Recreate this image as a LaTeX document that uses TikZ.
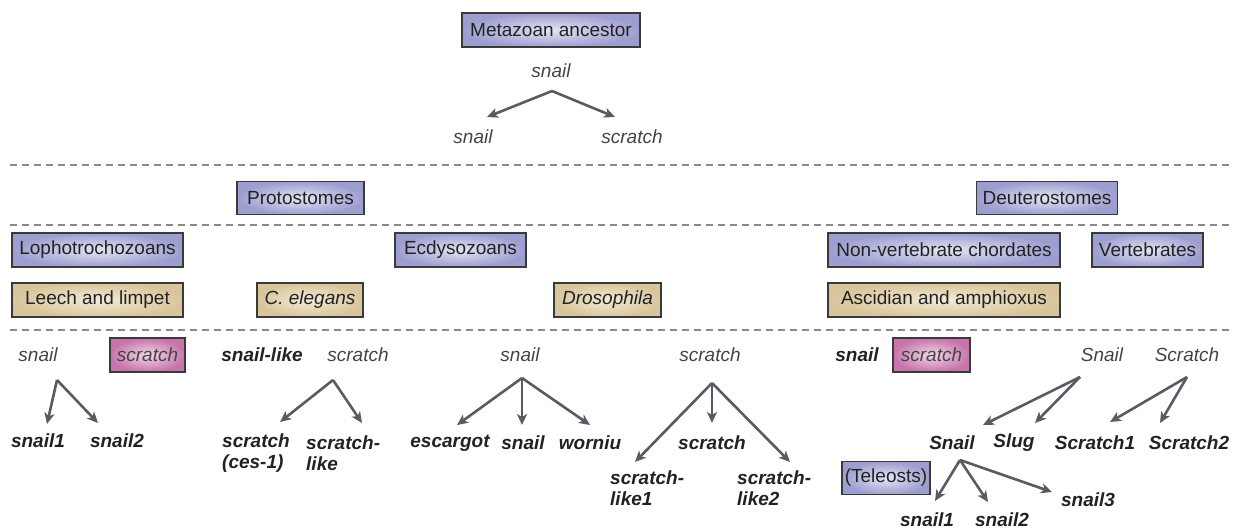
\documentclass[tikz,border=0pt]{standalone}
\usepackage{fontspec}
\setmainfont{Liberation Sans}
\usetikzlibrary{arrows.meta}
\definecolor{arrowc}{HTML}{575C64}
\definecolor{dashc}{HTML}{8A8A8A}
\definecolor{bordc}{HTML}{3A3A3A}
\definecolor{blueout}{HTML}{9D9ED0}
\definecolor{bluein}{HTML}{E4E4F4}
\definecolor{tanout}{HTML}{D8C59B}
\definecolor{tanin}{HTML}{F3EAD6}
\definecolor{pinkout}{HTML}{C674AA}
\definecolor{pinkin}{HTML}{F2D6E7}
\definecolor{txt}{HTML}{222222}
\definecolor{txtgray}{HTML}{444444}
\newcommand{\fsz}{\fontsize{19}{20.5}\selectfont}
\tikzset{
  box/.style={draw=bordc, line width=1.1pt, minimum height=34pt, inner sep=0pt, text=txt, font=\fsz},
  bluebox/.style={box, inner color=bluein, outer color=blueout},
  tanbox/.style={box, inner color=tanin, outer color=tanout},
  pinkbox/.style={box, inner color=pinkin, outer color=pinkout, text=txtgray, font=\fsz\itshape},
  gene/.style={font=\fsz\itshape, text=txtgray, inner sep=0pt},
  bgene/.style={font=\fsz\bfseries\itshape, text=txt, inner sep=0pt},
  two/.style={bgene, align=left, anchor=west},
  arr/.style={-{Stealth[length=11pt,width=10pt,inset=3pt]}, line width=2.6pt, draw=arrowc},
  dline/.style={draw=dashc, line width=1.4pt, dash pattern=on 7pt off 5pt}
}
\begin{document}
\begin{tikzpicture}[x=1pt,y=-1pt]
\useasboundingbox (0,0) rectangle (1237,531);
% separators
\coordinate (d1a) at (10,165); \coordinate (d1b) at (1232,165);
\coordinate (d2a) at (10,225); \coordinate (d2b) at (1232,225);
\coordinate (d3a) at (10,330); \coordinate (d3b) at (1232,330);
\draw[dline] (d1a) -- (d1b);
\draw[dline] (d2a) -- (d2b);
\draw[dline] (d3a) -- (d3b);
% boxes
\node[bluebox, minimum width=178pt] (meta) at (551,30) {Metazoan ancestor};
\node[bluebox, minimum width=127pt, minimum height=33pt] (proto) at (300.5,198) {Protostomes};
\node[bluebox, minimum width=141pt, minimum height=33pt] (deut) at (1047,198) {Deuterostomes};
\node[bluebox, minimum width=171pt] (lopho) at (97.5,250) {Lophotrochozoans};
\node[bluebox, minimum width=131pt] (ecdy) at (460.5,250) {Ecdysozoans};
\node[bluebox, minimum width=232pt] (nonvert) at (944,250) {Non-vertebrate chordates};
\node[bluebox, minimum width=111pt] (vert) at (1147.5,250) {Vertebrates};
\node[tanbox, minimum width=171pt] (leech) at (97.5,300) {Leech and limpet};
\node[tanbox, minimum width=106pt] (celeg) at (310,300) {\itshape C. elegans};
\node[tanbox, minimum width=107pt] (droso) at (607.5,300) {\itshape Drosophila};
\node[tanbox, minimum width=232pt] (ascid) at (944,300) {Ascidian and amphioxus};
% top tree
\node[gene] (snail0) at (551,71) {snail};
\node[gene] (snailA) at (473,137) {snail};
\node[gene] (scratchA) at (632,137) {scratch};
\coordinate (t0) at (552,91);
\coordinate (t0a) at (487,117); \coordinate (t0b) at (615,117);
\draw[arr] (t0) -- (t0a);
\draw[arr] (t0) -- (t0b);
% leech and limpet
\node[gene] (lsnail) at (38,355) {snail};
\node[pinkbox, minimum width=75pt] (lscratch) at (147.5,355) {scratch};
\node[bgene] (lsnail1) at (38,441) {snail1};
\node[bgene] (lsnail2) at (117,441) {snail2};
\coordinate (t1) at (57,380);
\coordinate (t1a) at (47,424); \coordinate (t1b) at (98,423);
\draw[arr] (t1) -- (t1a);
\draw[arr] (t1) -- (t1b);
% C. elegans
\node[bgene] (csnail) at (262,355) {snail-like};
\node[gene] (cscratch) at (358,355) {scratch};
\node[two] (cces) at (222,453) {scratch\\(ces-1)};
\node[two] (clike) at (306,453) {scratch-\\like};
\coordinate (t2) at (333,380);
\coordinate (t2a) at (280,422); \coordinate (t2b) at (362,423);
\draw[arr] (t2) -- (t2a);
\draw[arr] (t2) -- (t2b);
% Drosophila snail
\node[gene] (dsnail) at (520,355) {snail};
\node[bgene] (desc) at (450,443) {escargot};
\node[bgene] (dsn) at (523,443) {snail};
\node[bgene] (dwor) at (590,443) {worniu};
\coordinate (t3) at (522,378);
\coordinate (t3a) at (457,425); \coordinate (t3b) at (522,425); \coordinate (t3c) at (590,425);
\draw[arr] (t3) -- (t3a);
\draw[arr] (t3) -- (t3b);
\draw[arr] (t3) -- (t3c);
% Drosophila scratch
\node[gene] (dscratch) at (710,355) {scratch};
\node[bgene] (dscr) at (712,443) {scratch};
\node[two] (dl1) at (610,488) {scratch-\\like1};
\node[two] (dl2) at (737,488) {scratch-\\like2};
\coordinate (t4) at (712,383);
\coordinate (t4a) at (635,462); \coordinate (t4b) at (712,423); \coordinate (t4c) at (790,462);
\draw[arr] (t4) -- (t4a);
\draw[arr] (t4) -- (t4b);
\draw[arr] (t4) -- (t4c);
% Deuterostomes
\node[bgene] (asnail) at (857,355) {snail};
\node[pinkbox, minimum width=77pt] (ascratch) at (931.5,355) {scratch};
\node[gene] (vSnail) at (1102,355) {Snail};
\node[gene] (vScratch) at (1187,355) {Scratch};
\node[bgene] (vSn) at (952,443) {Snail};
\node[bgene] (vSlug) at (1014,443) {Slug};
\node[bgene] (vScr1) at (1095,443) {Scratch1};
\node[bgene] (vScr2) at (1189,443) {Scratch2};
\coordinate (t5) at (1080,377);
\coordinate (t5a) at (983,425); \coordinate (t5b) at (1035,423);
\draw[arr] (t5) -- (t5a);
\draw[arr] (t5) -- (t5b);
\coordinate (t6) at (1187,377);
\coordinate (t6a) at (1110,422); \coordinate (t6b) at (1160,423);
\draw[arr] (t6) -- (t6a);
\draw[arr] (t6) -- (t6b);
% Teleosts
\node[bluebox, minimum width=88pt, minimum height=33pt] (tele) at (886,478) {(Teleosts)};
\node[bgene] (ts1) at (927,520) {snail1};
\node[bgene] (ts2) at (1002,520) {snail2};
\node[bgene] (ts3) at (1088,500) {snail3};
\coordinate (t7) at (960,460);
\coordinate (t7a) at (935,501); \coordinate (t7b) at (988,502); \coordinate (t7c) at (1052,492);
\draw[arr] (t7) -- (t7a);
\draw[arr] (t7) -- (t7b);
\draw[arr] (t7) -- (t7c);
\end{tikzpicture}
\end{document}
